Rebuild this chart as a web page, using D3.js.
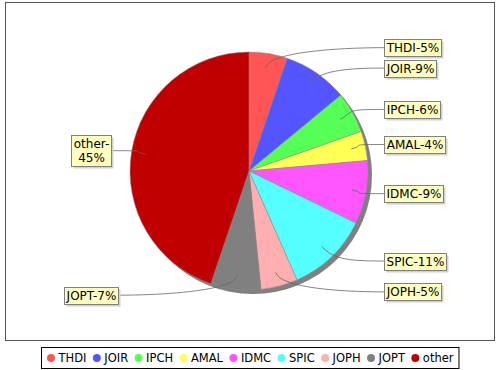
<!DOCTYPE html>
<html>
<head>
<meta charset="UTF-8">
<script src="https://d3js.org/d3.v7.min.js"></script>
<style>
  body { margin: 0; background: #fff; font-family: "DejaVu Sans", sans-serif; }
</style>
</head>
<body>
<div id="chart"></div>
<script>
const categories = ["THDI", "JOIR", "IPCH", "AMAL", "IDMC", "SPIC", "JOPH", "JOPT", "other"];
const shares = [5.2, 8.8, 5.6, 4.0, 8.6, 11.2, 5.0, 6.8, 44.8];
const colors = ["#FF5555", "#5555FF", "#55FF55", "#FFFF55", "#FF55FF", "#55FFFF", "#FFAFAF", "#808080", "#C00000"];

const width = 500, height = 370;
const cx = 249, cy = 171, r = 119;

const svg = d3.select("#chart").append("svg")
  .attr("width", width).attr("height", height);

// plot border
svg.append("rect")
  .attr("x", 5.5).attr("y", 2.5).attr("width", 489).attr("height", 338)
  .attr("fill", "#fff").attr("stroke", "#555").attr("stroke-width", 1);

const data = categories.map((c, i) => ({name: c, value: shares[i], color: colors[i]}));
const total = d3.sum(shares);

const pie = d3.pie().sort(null).value(d => d.value);
const arcs = pie(data);
const arc = d3.arc().innerRadius(0).outerRadius(r);

const g = svg.append("g").attr("transform", `translate(${cx},${cy})`);
const linkLayer = svg.append("g");
const labelLayer = svg.append("g");

// shadow
g.append("circle")
  .attr("cx", 4).attr("cy", 4).attr("r", r)
  .attr("fill", "#808080");

g.selectAll("path.slice")
  .data(arcs)
  .enter().append("path")
  .attr("class", "slice")
  .attr("d", arc)
  .attr("fill", d => d.data.color)
  .attr("stroke", "#8a8a8a")
  .attr("stroke-width", 0.5);

// labels
const fmt = d => d.data.name + "-" + Math.round(d.data.value / total * 100) + "%";
const labelR = 125;
const rightX = 384, leftCenter = 91;
const lineH = 14;

arcs.forEach(d => {
  const mid = (d.startAngle + d.endAngle) / 2;
  const right = Math.sin(mid) >= 0;
  const ly = cy - labelR * Math.cos(mid);
  const label = fmt(d);

  const box = labelLayer.append("g");
  const shadow = box.append("rect").attr("fill", "#d0d0d0");
  const rect = box.append("rect")
    .attr("fill", "#FFFFC0").attr("stroke", "#808080").attr("stroke-width", 1);
  const t = box.append("text").attr("font-size", "12px").attr("text-anchor", "middle").text(label);

  let lines = [label];
  if (!right && t.node().getComputedTextLength() > 56) {
    const k = label.indexOf("-") + 1;
    lines = [label.slice(0, k), label.slice(k)];
  }
  t.text(null);
  lines.forEach((s, j) => {
    t.append("tspan").attr("x", 0).attr("dy", j === 0 ? 0 : lineH).text(s);
  });
  const w = Math.ceil(d3.max(t.selectAll("tspan").nodes(), n => n.getComputedTextLength())) + 4;
  const h = lines.length * lineH + 3;
  const bx = right ? rightX : Math.round(leftCenter - w / 2);
  const by = Math.round(ly - h / 2);

  shadow.attr("x", bx + 2.5).attr("y", by + 2.5).attr("width", w).attr("height", h);
  rect.attr("x", bx + 0.5).attr("y", by + 0.5).attr("width", w).attr("height", h);
  t.attr("transform", `translate(${bx + 0.5 + w / 2},${by + 13})`);

  // link curve
  const sx = cx + r * 0.88 * Math.sin(mid), sy = cy - r * 0.88 * Math.cos(mid);
  const ex = right ? bx : bx + w, ey = ly;
  const c1x = cx + r * 1.02 * Math.sin(mid), c1y = cy - r * 1.02 * Math.cos(mid);
  const c2x = ex + (right ? -40 : 40), c2y = ey;
  linkLayer.append("path")
    .attr("d", `M${sx},${sy} C${c1x},${c1y} ${c2x},${c2y} ${ex},${ey}`)
    .attr("fill", "none").attr("stroke", "#666").attr("stroke-width", 0.8);
});

// legend
const legBox = svg.append("rect");
const leg = svg.append("g");
const items = leg.selectAll("g.item").data(data).enter().append("g").attr("class", "item");
items.append("circle").attr("r", 4).attr("cy", 0).attr("fill", d => d.color);
items.append("text").attr("x", 7.5).attr("y", 4.2).attr("font-size", "11.5px").text(d => d.name);
const gap = 10.4;
let xpos = 0;
items.each(function() {
  const tw = d3.select(this).select("text").node().getComputedTextLength();
  d3.select(this).attr("transform", `translate(${xpos},0)`);
  xpos += 7.5 + tw + gap;
});
const legW = xpos - gap + 4;
const lx0 = Math.round(250 - legW / 2);
leg.attr("transform", `translate(${lx0 + 4},358)`);
legBox
  .attr("x", lx0 - 5.5).attr("y", 347.5).attr("width", legW + 11).attr("height", 21)
  .attr("fill", "#fff").attr("stroke", "#000").attr("stroke-width", 1);
</script>
</body>
</html>
